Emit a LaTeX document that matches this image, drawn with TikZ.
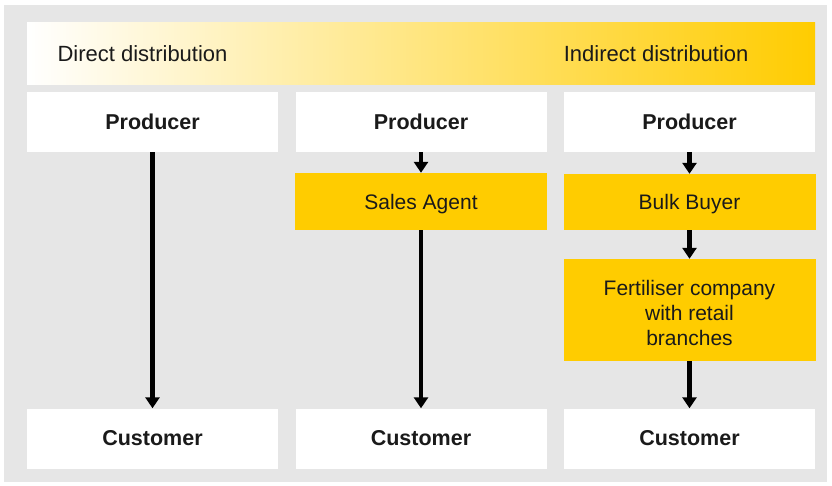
\documentclass[tikz,border=0pt]{standalone}
\usepackage{fontspec}
\setmainfont{Liberation Sans}
\usetikzlibrary{arrows.meta}
\definecolor{bggray}{HTML}{E6E6E6}
\definecolor{ylw}{HTML}{FFCC00}
\definecolor{txt}{HTML}{1A1A1A}
\tikzset{
  box/.style={draw=none, inner sep=0pt, align=center, text=txt},
  whitebox/.style={box, fill=white, minimum width=251pt, minimum height=60pt, font=\fontsize{21.5}{25}\selectfont\bfseries},
  ylwbox/.style={box, fill=ylw, minimum width=252pt},
  ylwtext/.style={align=center, text=txt, inner sep=0pt, yshift=-2.5pt, font=\fontsize{21}{25}\selectfont},
  banner/.style={text=txt, font=\fontsize{22}{26}\selectfont},
  flow/.style={line width=4.5pt, -{Triangle[width=14pt,length=11pt]}},
}
\begin{document}
\begin{tikzpicture}[x=1pt,y=-1pt]
\useasboundingbox (0,0) rectangle (832,486);
\fill[white] (0,0) rectangle (832,486);
\fill[bggray] (4,5) rectangle (827,482);
% banner
\shade[left color=white, right color=ylw] (27,23) rectangle (815,85);
\node[anchor=west, banner] (direct) at (54,54) {Direct distribution};
\node[anchor=east, banner] (indirect) at (752,54) {Indirect distribution};
% column 1
\node[whitebox] (p1) at (152.5,122) {Producer};
\node[whitebox] (c1) at (152.5,438.5) {Customer};
% column 2
\node[whitebox] (p2) at (421,122) {Producer};
\node[ylwbox, minimum height=57pt, label={[ylwtext]center:Sales Agent}] (sa) at (421,201.5) {};
\node[whitebox] (c2) at (421,438.5) {Customer};
% column 3
\node[whitebox] (p3) at (689.5,122) {Producer};
\node[ylwbox, minimum height=56pt, label={[ylwtext]center:Bulk Buyer}] (bb) at (689.5,202) {};
\node[ylwbox, minimum height=102pt, label={[ylwtext]center:{Fertiliser company\\with retail\\branches}}] (fc) at (689.5,310) {};
\node[whitebox] (c3) at (689.5,438.5) {Customer};
% arrows
\draw[flow] (p1) -- (c1);
\draw[flow] (p2) -- (sa);
\draw[flow] (sa) -- (c2);
\draw[flow] (p3) -- (bb);
\draw[flow] (bb) -- (fc);
\draw[flow] (fc) -- (c3);
\end{tikzpicture}
\end{document}
